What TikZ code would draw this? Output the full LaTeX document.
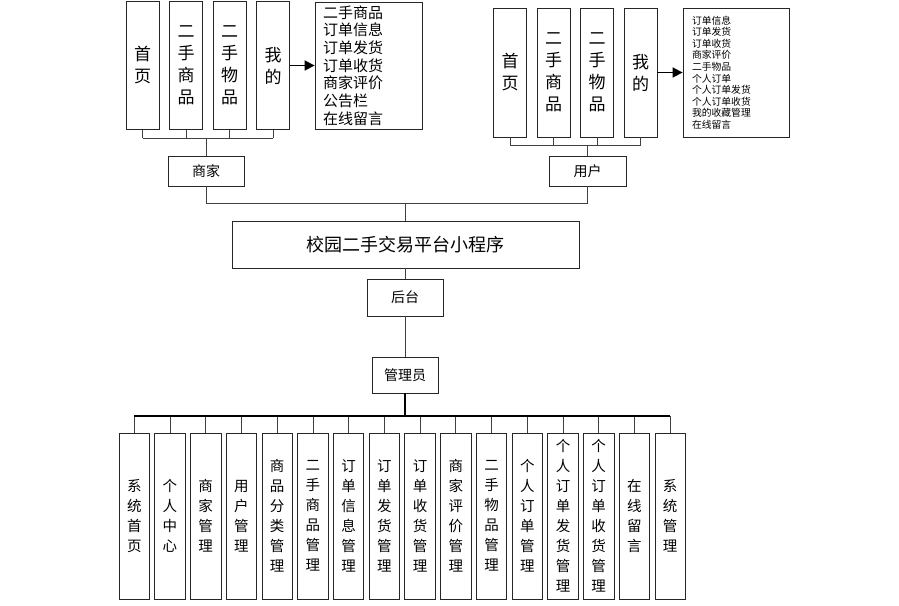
\documentclass[tikz,border=0pt]{standalone}
\usepackage{fontspec}
\setmainfont{Noto Sans CJK SC}
\usetikzlibrary{arrows.meta}
\tikzset{
  box/.style={draw=black!85, line width=0.8pt, inner sep=0pt, align=center},
  conn/.style={draw=black!75, line width=0.8pt},
  thickconn/.style={draw=black, line width=1.6pt},
  topcol/.style={box, minimum width=33pt, font=\fontsize{17}{22}\selectfont},
  botcol/.style={box, minimum width=30.5pt, minimum height=166pt, font=\fontsize{14.5}{20}\selectfont},
  midbox/.style={box, font=\fontsize{14}{16}\selectfont},
  arr/.style={line width=1.6pt, -{Triangle[length=10pt,width=10pt]}},
}
\begin{document}
\begin{tikzpicture}[x=1pt,y=-1pt]
\useasboundingbox (0,0) rectangle (899,605);
% ---- left (merchant) group
\node[topcol, minimum height=128pt] (l1) at (142.5,65.5) {首\\页};
\node[topcol, minimum height=128pt] (l2) at (186,65.5) {二\\手\\商\\品};
\node[topcol, minimum height=128pt] (l3) at (229.5,65.5) {二\\手\\物\\品};
\node[topcol, minimum height=128pt] (l4) at (273,65.5) {我\\的};
\node[box, minimum width=107pt, minimum height=127pt, align=left, text width=91pt, font=\fontsize{15}{17.7}\selectfont] (llist) at (368.5,65.5) {二手商品\\订单信息\\订单发货\\订单收货\\商家评价\\公告栏\\在线留言};
\draw[arr] (l4.east) -- (llist.west);
\node[midbox, minimum width=76pt, minimum height=30pt] (sj) at (206,171) {商家};
\coordinate (busL) at (0,138);
\foreach \n in {l1,l2,l3,l4} \draw[conn] (\n.south) -- (\n.south |- busL);
\draw[conn] (l1.south |- busL) -- (l4.south |- busL);
\draw[conn] (sj.north) -- (sj.north |- busL);
% ---- right (user) group
\node[topcol, minimum height=129pt] (r1) at (510,72.5) {首\\页};
\node[topcol, minimum height=129pt] (r2) at (553.5,72.5) {二\\手\\商\\品};
\node[topcol, minimum height=129pt] (r3) at (597,72.5) {二\\手\\物\\品};
\node[topcol, minimum height=129pt] (r4) at (640.5,72.5) {我\\的};
\node[box, minimum width=106pt, minimum height=129pt, align=left, text width=88pt, font=\fontsize{9.8}{11.6}\selectfont] (rlist) at (736,72.5) {订单信息\\订单发货\\订单收货\\商家评价\\二手物品\\个人订单\\个人订单发货\\个人订单收货\\我的收藏管理\\在线留言};
\draw[arr] (r4.east) -- (rlist.west);
\node[midbox, minimum width=77pt, minimum height=30pt] (yh) at (587.5,171) {用户};
\coordinate (busR) at (0,145);
\foreach \n in {r1,r2,r3,r4} \draw[conn] (\n.south) -- (\n.south |- busR);
\draw[conn] (r1.south |- busR) -- (r4.south |- busR);
\draw[conn] (yh.north) -- (yh.north |- busR);
% ---- main
\node[box, minimum width=347pt, minimum height=47pt, font=\fontsize{18}{20}\selectfont] (main) at (405.5,244.5) {校园二手交易平台小程序};
\coordinate (busT) at (0,203);
\draw[conn] (sj.south) -- (sj.south |- busT) -- (yh.south |- busT) -- (yh.south);
\draw[conn] (main.north) -- (main.north |- busT);
\node[midbox, minimum width=76pt, minimum height=37pt] (ht) at (405,297.5) {后台};
\node[midbox, minimum width=66pt, minimum height=36pt] (gly) at (405,375) {管理员};
\draw[conn] (main.south -| ht.north) -- (ht.north);
\draw[conn] (ht.south) -- (gly.north);
% ---- bottom
\coordinate (busB) at (0,416);
\foreach \t [count=\i from 0] in {系\\统\\首\\页, 个\\人\\中\\心, 商\\家\\管\\理, 用\\户\\管\\理, 商\\品\\分\\类\\管\\理, 二\\手\\商\\品\\管\\理, 订\\单\\信\\息\\管\\理, 订\\单\\发\\货\\管\\理, 订\\单\\收\\货\\管\\理, 商\\家\\评\\价\\管\\理, 二\\手\\物\\品\\管\\理, 个\\人\\订\\单\\管\\理, 个\\人\\订\\单\\发\\货\\管\\理, 个\\人\\订\\单\\收\\货\\管\\理, 在\\线\\留\\言, 系\\统\\管\\理}{
  \node[botcol] (b\i) at ({134.25+35.73*\i},516) {\t};
  \draw[conn] (b\i.north) -- (b\i.north |- busB);
}
\draw[thickconn] (b0.north |- busB) -- (b15.north |- busB);
\draw[thickconn] (gly.south) -- (gly.south |- busB);
\end{tikzpicture}
\end{document}
